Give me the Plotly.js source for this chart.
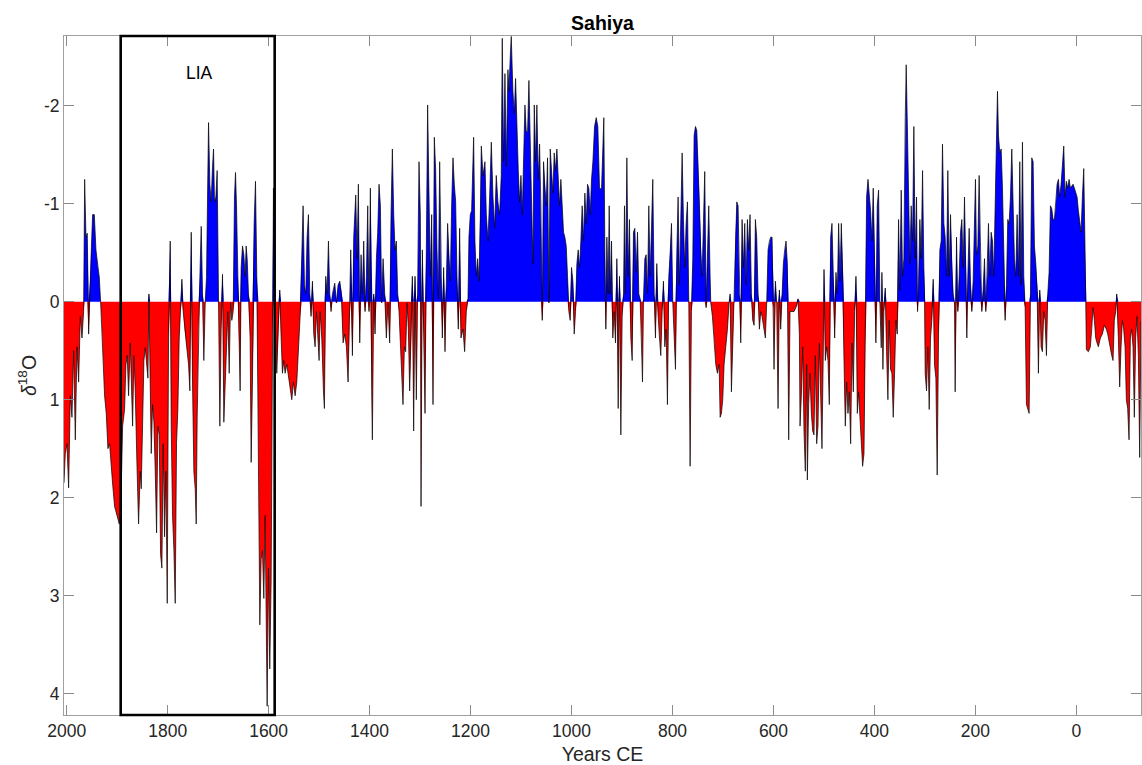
<!DOCTYPE html>
<html>
<head>
<meta charset="utf-8">
<script src="https://cdn.plot.ly/plotly-3.0.1.min.js"></script>
<style>html,body{margin:0;padding:0;background:#fff;}#chart{width:1142px;height:765px;}</style>
</head>
<body>
<div id="chart"></div>
<script>
// ---- Data: Sahiya cave d18O anomaly (years CE, descending) ----
const yearsA = [2005.3,2002.7,1999.4,1996.1,1992.8,1989.5,1986.2,1982.9,1979.6,1976.3,
1973.0,1969.7,1966.4,1964.4,1961.8,1959.2,1956.5,1953.9,1951.2,1948.6,
1945.3,1942.0,1938.1,1935.4,1932.8,1930.1,1927.5,1924.9,1921.6,1918.3,
1915.0,1911.7,1909.0,1905.1,1900.4,1895.8,1891.9,1889.2,1885.3,1882.6,
1880.0,1877.4,1874.1,1872.1,1869.4,1866.8,1864.2,1860.9,1857.6,1854.3,
1852.3,1849.7,1847.0,1844.4,1841.1,1839.1,1837.1,1834.5,1832.5,1829.9,
1827.2,1824.6,1821.9,1819.3,1816.7,1814.0,1811.4,1808.8,1806.1,1803.5,
1800.8,1798.2,1794.9,1792.9,1790.3,1787.6,1785.0,1782.4,1779.7,1777.1,
1774.5,1771.8,1769.2,1766.5,1763.9,1761.3,1758.6,1756.0,1753.3,1750.7,
1748.1,1745.4,1743.4,1741.5,1738.8,1736.2,1733.5,1730.9,1728.3,1725.6,
1723.0,1720.4,1719.0,1716.4,1713.8,1711.1,1709.1,1707.2,1704.5,1701.9,
1699.2,1696.6,1694.0,1691.3,1688.7,1686.0,1683.4,1680.8,1678.1,1675.5,
1672.9,1670.2,1667.6,1665.6,1663.6,1661.0,1658.3,1656.4,1654.4,1651.7,
1649.1,1646.5,1644.5,1642.5,1639.9,1636.6,1634.6,1632.0,1628.7,1626.0,
1623.4,1621.4,1620.1,1617.4,1614.8,1612.2,1609.5,1606.9,1604.2,1602.9,
1600.3,1597.7,1595.0,1592.4,1590.4,1587.1,1583.8,1580.5,1577.9,1575.2,
1572.6,1570.0,1567.3,1564.0,1560.7,1557.4,1554.1,1550.8,1547.5,1544.2,
1540.9,1537.6,1534.3,1531.7,1529.0,1526.4,1523.8,1521.1,1518.5,1515.9,
1513.2,1510.6,1507.9,1505.3,1502.7,1500.0,1498.0,1494.7,1491.4,1489.5,
1486.8,1484.2,1481.5,1478.9,1476.3,1473.6];
const valsA = [1.85,1.55,1.45,1.9,0.96,1.18,0.5,1.41,0.46,0.82,
0.15,0.37,0.1,-1.25,-0.66,-0.7,0.33,-0.2,-0.53,-0.89,
-0.89,-0.53,-0.35,-0.25,0.0,0.28,0.55,0.96,1.14,1.5,
1.45,1.73,1.86,2.09,2.18,2.27,1.9,1.27,1.1,0.64,
0.55,0.96,0.42,0.82,1.27,0.55,0.91,1.64,2.27,1.73,
1.91,1.27,0.6,0.47,0.69,0.78,-0.08,0.82,1.55,1.05,
1.23,1.73,2.36,1.27,1.36,2.58,2.72,1.45,2.4,1.73,
3.08,0.37,-0.62,1.27,2.18,2.54,3.08,1.45,1.09,0.37,
0.1,-0.23,0.1,0.28,0.37,0.51,0.64,0.91,-0.71,0.82,
1.73,1.91,2.27,1.18,0.28,-0.25,-0.77,-0.08,0.6,0.01,
-0.25,-1.29,-1.83,-1.2,-1.02,-1.38,-1.56,-1.02,-1.07,-1.34,
0.01,1.27,0.28,-0.28,1.23,0.82,0.37,0.1,0.73,0.01,
0.19,0.1,-1.07,-1.32,-0.98,-0.26,0.46,0.91,-0.35,-0.57,
-0.48,-0.26,-0.57,-0.44,-0.08,0.37,1.64,0.82,-0.8,-1.23,
-0.26,0.82,2.08,3.3,2.63,2.54,3.03,2.18,3.53,4.13,
2.72,3.75,2.85,0.37,-1.16,0.15,0.73,0.19,-0.12,0.37,
0.73,0.6,0.73,0.64,0.78,0.91,1.0,0.82,0.96,0.82,
0.51,0.15,-0.48,-0.98,-0.17,-0.08,-0.66,-0.89,-0.08,0.15,
-0.21,0.33,0.46,0.1,0.33,0.6,0.1,0.37,0.91,1.09,
-0.26,-0.08,-0.62,-0.08,0.1,-0.08];

const yearsB = [1469.0,1465.7,1462.4,1459.1,1455.8,1452.5,1449.2,1445.9,1442.6,1439.3,
1437.3,1434.0,1431.4,1427.4,1424.8,1422.2,1419.5,1416.9,1414.3,1411.6,
1409.0,1406.3,1403.7,1401.1,1398.4,1395.8,1394.5,1391.8,1389.2,1386.5,
1383.9,1381.3,1378.6,1376.0,1373.3,1370.0,1366.8,1363.5,1360.2,1357.5,
1354.9,1352.2,1349.6,1347.0,1344.3,1341.7,1339.0,1336.4,1333.8,1331.1,
1328.5,1325.8,1323.2,1320.6,1317.9,1315.3,1312.7,1310.0,1307.4,1304.7,
1302.1,1299.5,1298.1,1295.5,1292.9,1290.2,1287.6,1285.0,1282.3,1279.7,
1277.0,1274.4,1271.8,1269.1,1266.5,1263.8,1261.2,1258.6,1255.9,1253.3,
1250.6,1248.0,1245.4,1242.7,1240.1,1237.5,1234.8,1232.2,1229.5,1226.9,
1224.3,1221.6,1219.0,1215.0,1211.7,1208.4,1205.1,1203.2,1200.5,1197.9,
1193.9,1191.3,1188.6,1186.0,1183.4,1180.7,1178.7,1175.4,1171.5,1168.8,
1165.5,1162.2,1158.9,1155.6,1152.3,1149.1,1145.8,1142.5,1139.2,1137.2,
1134.5,1131.9,1129.3,1126.0,1124.0,1121.3,1119.4,1116.1,1113.4,1110.8,
1108.1,1105.5,1102.9,1100.2,1097.6,1095.0,1092.3,1089.7,1087.0,1084.4,
1081.8,1079.1,1076.5,1073.8,1071.2,1068.6,1065.9,1063.3,1060.7,1058.0,
1055.4,1052.7,1050.1,1047.5,1044.8,1042.2,1039.5,1036.9,1034.3,1031.6,
1029.0,1026.3,1023.7,1021.1,1018.4,1015.8,1013.2,1010.5,1007.9,1005.3,
1002.6,1000.0,997.3,994.7,992.1,989.4,986.8,984.1,981.5,978.9,
976.2,973.6,970.9,968.3,965.7,963.0,960.4,957.7,954.4,951.1,
947.9,944.6];
const valsB = [-0.19,0.01,-0.17,-0.21,-0.08,0.42,0.33,0.46,0.82,0.15,
-0.53,0.55,-0.66,-1.09,-0.44,-1.2,0.42,-0.48,-0.08,-0.62,
0.1,-0.26,-0.98,0.1,-1.16,0.91,1.41,-0.08,0.33,-0.44,
-0.71,-1.2,-0.98,0.01,-0.44,-0.08,0.37,0.01,0.42,-0.89,
-1.56,-0.89,-0.53,-0.62,-0.08,0.1,0.46,0.69,1.05,0.46,
0.51,0.01,0.28,0.91,0.37,-0.26,1.32,-0.26,1.0,-0.08,
-1.43,-0.89,2.09,-0.53,0.37,1.14,-0.53,-2.01,-1.07,-0.26,
-0.89,1.05,-1.68,-1.34,-0.53,-0.03,-1.43,-0.26,0.37,-0.35,
0.51,-0.17,-0.8,-0.44,-0.21,-0.98,-1.47,-1.2,-1.02,-0.26,
0.28,-0.75,0.37,0.28,0.51,0.1,-0.03,-0.66,-0.89,-0.93,
-1.68,-0.62,-0.26,-0.44,-0.21,-0.84,-1.59,-1.29,-1.43,-0.89,
-0.62,-1.07,-1.63,-1.07,-0.75,-1.29,-1.02,-0.89,-1.29,-2.69,
-1.43,-2.33,-1.38,-2.37,-2.15,-2.51,-2.71,-2.15,-1.92,-2.28,
-1.65,-1.34,-1.02,-1.29,-0.89,-1.34,-2.01,-1.74,-1.74,-2.26,
-1.56,-1.2,-0.39,-2.01,-1.43,-2.01,-1.25,-1.61,-0.98,0.19,
-1.43,-1.16,-0.98,-1.47,0.01,-1.56,-1.34,-1.11,-1.52,-1.34,
-1.56,-1.2,-0.98,-1.25,-0.89,-0.71,-0.66,-0.57,-0.26,0.1,
0.19,-0.35,-0.21,0.33,0.1,-0.39,-0.53,-0.35,-0.62,-0.98,
-0.62,-1.11,-0.8,-1.2,-1.16,-0.89,-1.25,-1.43,-1.79,-1.88,
-1.79,-1.16];

const yearsC = [940.6,938.0,936.0,934.0,932.0,930.0,927.4,925.4,923.4,920.8,
918.2,915.5,912.9,910.2,907.6,905.0,902.3,899.7,897.0,895.1,
893.1,890.4,887.8,885.2,882.5,879.9,877.3,874.6,872.0,869.3,
866.7,864.1,861.4,859.4,857.5,854.8,852.2,849.5,846.9,844.3,
841.6,839.0,836.3,833.7,831.1,828.4,825.8,823.2,820.5,817.9,
815.2,812.6,810.0,807.3,804.7,802.0,799.4,796.8,794.1,791.5,
788.9,786.2,783.6,780.9,778.3,775.7,773.0,770.4,767.7,765.1,
762.5,759.8,757.2,754.5,751.9,749.3,746.6,744.0,741.4,738.7,
736.1,733.4,730.8,728.2,725.5,724.2,720.9,717.6,714.3,711.0,
707.7,705.7,703.1,700.5,697.8,694.5,691.2,687.9,685.9,683.3,
680.7,678.0,675.4,672.7,670.1,667.5,664.8,662.2,659.5,656.9,
654.3,651.6,649.0,646.4,643.7,641.1,638.4,635.8,633.2,630.5,
627.9,625.2,622.6,620.0,616.0,613.4,610.7,608.1,605.5,602.8,
600.2,598.9,596.2,593.6,590.9,588.3,585.7,583.0,580.4,577.8,
575.1,572.5,569.8,567.2,564.6,559.3,554.0,551.4,548.7,547.4,
544.8,542.1,539.5,536.9,534.2,532.9,530.3,527.6,525.0,522.3,
519.7,517.1,514.4,511.8,509.1,506.5,503.9,501.2,499.9,497.3,
494.6,492.0,489.4,486.7,484.1,481.4,478.8,476.2,473.5,470.9,
468.2,465.6,463.0,460.3,457.7,455.0,452.4,449.8,447.1,444.5,
441.9,439.2,436.6,433.9,431.3,428.7,426.0,423.4,420.7,418.1,
415.5,412.8];
const valsC = [-1.15,-1.7,-1.88,-0.53,0.28,-0.66,-0.08,-0.98,-0.08,-0.62,
0.37,0.1,0.42,-0.44,1.09,-0.26,1.36,0.15,-0.08,-0.98,
-0.08,-1.47,-0.26,-0.84,0.37,0.6,-0.71,-0.75,-0.3,-0.71,
-0.08,-0.03,0.37,0.82,-0.03,-0.44,-0.48,-0.08,-0.98,-0.26,
-0.75,-1.25,-0.08,0.37,-0.39,0.15,0.37,0.55,0.1,-0.21,
0.46,0.28,1.05,-0.26,-0.48,-0.8,0.01,0.37,0.69,-0.48,
-1.07,-0.17,-0.84,-1.52,-0.84,-0.35,-0.8,-1.02,0.01,1.68,
0.1,-0.44,-1.7,-1.79,-1.75,-1.42,-0.98,-0.48,-0.26,-0.8,
-1.33,0.06,-0.62,-0.98,-0.26,0.01,0.15,0.37,0.64,0.73,
0.64,1.18,1.14,1.0,0.64,0.46,0.28,0.01,-0.08,0.92,
0.46,0.01,-0.66,-1.02,-0.98,-0.08,0.42,-0.84,-0.35,-0.8,
-0.17,-0.84,-0.53,-0.89,-0.08,0.19,0.24,-0.84,-0.66,-0.08,
0.28,0.1,0.15,0.24,0.37,0.01,-0.53,-0.62,-0.66,-0.66,
0.06,0.69,-0.21,0.01,1.09,-0.12,0.28,-0.08,-0.39,-0.53,
-0.62,-0.39,1.41,0.1,0.1,0.1,0.04,-0.03,0.33,1.27,
0.96,0.46,1.32,1.73,0.64,1.82,1.05,0.73,1.14,1.32,
1.36,0.55,1.45,1.27,0.42,1.0,1.5,0.46,-0.33,0.6,
0.46,0.6,1.05,-0.66,-0.8,-0.26,0.37,-0.3,-0.08,-0.8,
-0.21,-0.8,-0.3,0.6,1.27,0.82,1.14,0.92,1.45,0.42,
0.92,0.1,-0.26,1.14,0.92,1.18,1.5,1.68,1.55,0.46,
-1.07,-1.25];

const yearsD = [407.6,405.0,402.4,399.7,397.1,394.5,391.8,389.2,386.5,385.2,
383.2,381.3,378.6,376.0,373.3,370.7,368.1,365.4,362.8,360.1,
357.5,354.9,352.2,349.6,347.0,344.3,341.7,339.0,337.1,335.1,
332.4,329.8,327.2,324.5,321.9,319.2,316.6,314.6,312.6,310.0,
307.4,304.7,302.1,300.8,299.5,296.8,294.2,291.5,288.9,286.3,
283.6,281.0,278.3,275.7,273.1,270.4,267.8,265.2,262.5,259.9,
257.2,254.6,252.0,249.3,246.7,244.0,241.4,240.1,237.4,234.8,
232.2,229.5,226.9,224.2,221.6,219.0,217.0,215.0,212.4,209.8,
207.1,204.5,201.8,199.9,197.9,195.2,192.6,189.9,187.3,184.7,
182.0,179.4,176.7,174.1,171.5,168.8,166.2,163.6,160.9,158.3,
156.3,154.3,151.7,149.0,146.4,143.8,141.1,138.5,135.9,133.2,
130.6,127.9,125.3,122.7,120.0,117.4,114.7,112.1,109.5,106.8,
104.2,101.5,98.9,96.3,93.6,91.0,88.4,85.7,83.1,80.4,
77.8,75.2,72.5,69.9,67.3,64.6,62.0,59.3,56.7,54.1,
51.4,48.8,46.1,43.5,40.9,38.2,35.6,33.0,30.3,27.7,
25.0,22.4,19.8,17.1,14.5,11.8,9.2,6.6,3.9,1.3,
-1.4,-4.0,-6.7,-9.3,-11.9,-14.6,-17.2,-18.5,-19.8,-23.8,
-27.7,-30.4,-33.0,-35.7,-38.3,-40.9,-43.6,-47.5,-51.5,-55.5,
-59.4,-62.1,-66.0,-70.0,-72.6,-75.2,-77.9,-79.9,-83.2,-85.8,
-88.5,-91.1,-93.7,-96.4,-99.0,-101.6,-104.3,-106.9,-109.5,-112.2,
-114.8,-117.5,-120.1,-122.8,-125.4,-128.0];
const valsD = [-0.93,-0.62,-1.16,-0.39,0.42,-0.98,-1.14,0.01,0.47,-0.3,
0.69,0.1,-0.14,0.51,1.0,0.19,0.69,0.73,1.18,0.73,
0.19,0.33,-0.84,-0.12,-1.14,-0.26,-0.44,-1.88,-2.42,-1.88,
-0.98,-0.39,-0.98,-0.62,-1.79,-0.44,-1.07,0.1,-0.21,-0.84,
-0.44,-1.34,-0.35,-0.08,0.73,0.91,0.46,1.1,0.37,0.19,
-0.23,0.64,0.78,1.77,0.37,-0.53,-0.62,-1.61,-0.8,-0.66,
-0.26,-1.34,-0.26,-0.89,-0.35,-0.08,0.01,0.92,-0.66,0.1,
-0.26,-0.71,-0.84,-0.35,-1.07,-0.44,0.37,-0.26,-0.75,-0.21,
0.1,-0.21,-0.75,-1.25,-0.48,-0.57,-1.29,-0.35,0.1,-0.12,
-0.44,0.1,-0.26,-0.8,-0.26,-0.71,-0.62,-0.26,-0.98,-1.79,
-2.15,-1.7,-1.52,-1.56,-1.16,-0.53,0.19,-0.17,-0.84,-0.8,
-1.07,-1.56,-0.8,-0.44,-0.26,-0.89,-0.26,-1.43,-0.17,-1.63,
-0.26,0.06,1.05,1.09,1.14,-0.08,-1.47,-1.43,-0.57,-0.39,
-0.12,0.73,-0.12,0.46,0.51,0.1,0.19,0.55,-0.08,-0.3,
-0.98,-0.95,-0.84,-0.84,-0.98,-1.2,-1.25,-1.07,-1.2,-1.43,
-1.59,-1.07,-1.23,-1.16,-1.25,-1.16,-1.18,-1.2,-1.16,-1.11,
-1.07,-0.93,-0.84,-0.71,-1.07,-1.36,-0.53,-0.03,0.49,0.51,
0.46,0.28,0.06,0.19,0.37,0.42,0.46,0.37,0.33,0.24,
0.28,0.33,0.46,0.55,0.6,0.19,0.1,-0.08,0.37,0.87,
0.46,0.19,0.28,0.46,1.0,1.09,1.41,0.37,0.28,0.46,
1.18,0.37,0.15,0.55,1.59,0.2];

// Axis ticks and labels
const xTickVals = [2000,1800,1600,1400,1200,1000,800,600,400,200,0];
const xTickText = ['2000','1800','1600','1400','1200','1000','800','600','400','200','0'];
const yTickVals = [-2,-1,0,1,2,3,4];
const yTickText = ['-2','-1','0','1','2','3','4'];

// Little Ice Age window and label
const liaStart = 1893;
const liaEnd = 1588;
const liaLabel = 'LIA';
const liaLabelYear = 1736;
const liaLabelValue = -2.34;

const years = [].concat(yearsA, yearsB, yearsC, yearsD);
const d18O = [].concat(valsA, valsB, valsC, valsD);
const negPart = d18O.map(v => Math.min(v, 0));
const posPart = d18O.map(v => Math.max(v, 0));

const FONT = 'Liberation Sans, Arial, Helvetica, sans-serif';

const traces = [
  {x: years, y: posPart, type: 'scatter', mode: 'lines', fill: 'tozeroy',
   fillcolor: '#ff0000', line: {width: 0, color: '#ff0000'}, hoverinfo: 'skip'},
  {x: years, y: negPart, type: 'scatter', mode: 'lines', fill: 'tozeroy',
   fillcolor: '#0000ff', line: {width: 0, color: '#0000ff'}, hoverinfo: 'skip'},
  {x: years, y: d18O, type: 'scatter', mode: 'lines',
   line: {width: 0.7, color: '#000000'}, hoverinfo: 'skip'}
];

const axisCommon = {
  showgrid: false, zeroline: false, showline: true, linecolor: '#a0a0a0', linewidth: 1,
  mirror: 'ticks', ticks: 'inside', ticklen: 10, tickwidth: 1, tickcolor: '#8a8a8a',
  tickfont: {family: FONT, size: 17.5, color: '#262626'}, tickmode: 'array'
};

const layout = {
  width: 1142, height: 765,
  margin: {l: 64, r: 1, t: 36, b: 50, pad: 0},
  paper_bgcolor: '#ffffff', plot_bgcolor: '#ffffff',
  showlegend: false,
  font: {family: FONT, color: '#262626'},
  title: {text: '<b>Sahiya</b>', font: {family: FONT, size: 19.5, color: '#000000'},
          x: 0.5, xref: 'paper', xanchor: 'center', y: 0.970, yref: 'container', yanchor: 'middle'},
  xaxis: Object.assign({}, axisCommon, {
    range: [2005.3, -128], tickvals: xTickVals, ticktext: xTickText,
    title: {text: 'Years CE', font: {family: FONT, size: 19.5, color: '#262626'}, standoff: 9}
  }),
  yaxis: Object.assign({}, axisCommon, {
    range: [4.22, -2.714], tickvals: yTickVals, ticktext: yTickText,
    title: {text: '<i>δ</i><sup>18</sup>O', font: {family: FONT, size: 19.5, color: '#262626'}, standoff: 2}
  }),
  shapes: [{type: 'rect', xref: 'x', yref: 'paper', x0: liaStart, x1: liaEnd, y0: 0, y1: 1,
            line: {color: '#000000', width: 2.6}, fillcolor: 'rgba(0,0,0,0)', layer: 'above'}],
  annotations: [{x: liaLabelYear, y: liaLabelValue, xref: 'x', yref: 'y', text: liaLabel,
                 showarrow: false, font: {family: FONT, size: 17.5, color: '#000000'}}]
};

Plotly.newPlot('chart', traces, layout, {displayModeBar: false, staticPlot: true});
</script>
</body>
</html>
